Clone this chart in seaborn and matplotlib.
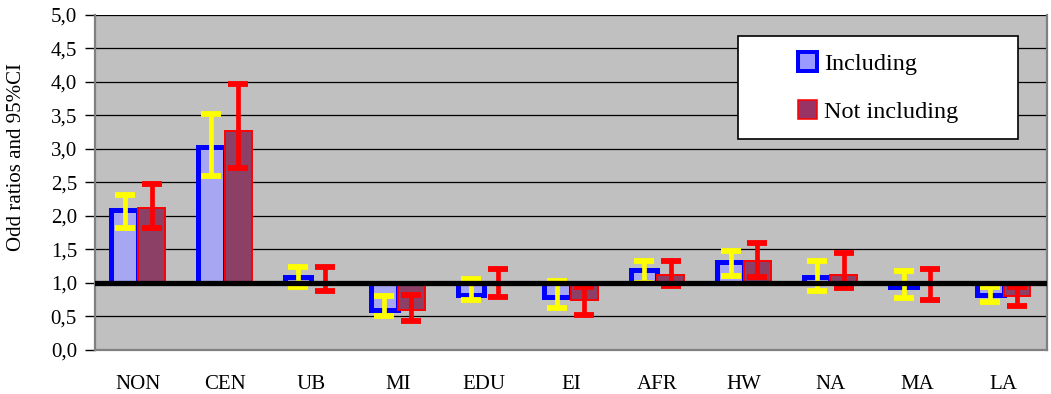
import numpy as np
import pandas as pd
import matplotlib
matplotlib.use('Agg')
import matplotlib.pyplot as plt
from matplotlib.patches import Patch, Rectangle
from matplotlib.ticker import FuncFormatter
import seaborn as sns

categories = ['NON', 'CEN', 'UB', 'MI', 'EDU', 'EI', 'AFR', 'HW', 'NA', 'MA', 'LA']
groups = ['Including', 'Not including']

incl = [2.09, 3.03, 1.09, 0.60, 0.82, 0.79, 1.19, 1.32, 1.09, 0.94, 0.82]
incl_lo = [1.82, 2.59, 0.94, 0.50, 0.74, 0.63, 1.00, 1.10, 0.88, 0.77, 0.72]
incl_hi = [2.31, 3.52, 1.24, 0.80, 1.06, 1.03, 1.33, 1.48, 1.33, 1.18, 0.94]

notincl = [2.12, 3.27, 1.01, 0.60, 0.98, 0.74, 1.12, 1.33, 1.12, 0.97, 0.80]
notincl_lo = [1.82, 2.72, 0.88, 0.44, 0.79, 0.52, 0.96, 1.09, 0.92, 0.74, 0.65]
notincl_hi = [2.48, 3.97, 1.24, 0.82, 1.21, 0.94, 1.33, 1.60, 1.45, 1.21, 0.94]

yticks = [0.0, 0.5, 1.0, 1.5, 2.0, 2.5, 3.0, 3.5, 4.0, 4.5, 5.0]

df = pd.DataFrame({
    'category': categories * 2,
    'group': [groups[0]] * len(categories) + [groups[1]] * len(categories),
    'odds': incl + notincl,
})
# bars start at the reference line 1.0
df['diff'] = df['odds'] - 1.0

plt.rcParams['font.family'] = ['Liberation Serif', 'DejaVu Serif']

fill_colors = {'Including': '#9999FF', 'Not including': '#993366'}
edge_colors = {'Including': '#0000FF', 'Not including': '#FF0000'}
edge_widths = {'Including': 3.6, 'Not including': 1.4}
err_colors = {'Including': '#FFFF00', 'Not including': '#FF0000'}

fig = plt.figure(figsize=(10.51, 3.94), dpi=100)
ax = fig.add_axes([0.0904, 0.1117, 0.9056, 0.8503])
ax.set_facecolor('#C0C0C0')

sns.barplot(data=df, x='category', y='diff', hue='group', order=categories,
            hue_order=groups, palette=fill_colors, width=0.62, gap=0,
            errorbar=None, legend=False, bottom=1.0, ax=ax, zorder=2)

lows = {'Including': incl_lo, 'Not including': notincl_lo}
highs = {'Including': incl_hi, 'Not including': notincl_hi}
vals = {'Including': incl, 'Not including': notincl}

for grp, cont in zip(groups, ax.containers):
    xs = []
    for p in cont.patches:
        p.set_edgecolor(edge_colors[grp])
        p.set_linewidth(edge_widths[grp])
        xs.append(p.get_x() + p.get_width() / 2)
    v = np.array(vals[grp])
    lo = v - np.array(lows[grp])
    hi = np.array(highs[grp]) - v
    ax.errorbar(xs, v, yerr=[lo, hi], fmt='none', ecolor=err_colors[grp],
                elinewidth=3.4, capsize=7.5, capthick=4.2, zorder=3)

ax.axhline(1.0, color='black', linewidth=3.8, zorder=4)

ax.set_ylim(0, 5)
ax.set_xlim(-0.5, len(categories) - 0.5)
ax.set_yticks(yticks)
ax.yaxis.set_major_formatter(FuncFormatter(lambda y, _: f'{y:.1f}'.replace('.', ',')))
ax.grid(axis='y', color='black', linewidth=0.9)
ax.set_axisbelow(True)

ax.tick_params(axis='y', direction='out', length=7, width=1, color='black',
               labelsize=15, pad=6)
ax.tick_params(axis='x', length=0, labelsize=15, pad=18)
ax.set_xlabel('')
ax.set_ylabel('Odd ratios and 95%CI', fontsize=15)
ax.yaxis.set_label_coords(-0.072, 0.575)

for side in ['left', 'right', 'bottom']:
    ax.spines[side].set_color('#808080')
    ax.spines[side].set_linewidth(1.6)
ax.spines['top'].set_visible(False)

# legend box
ax.add_patch(Rectangle((0.676, 0.63), 0.2935, 0.307, transform=ax.transAxes,
                       facecolor='white', edgecolor='black', linewidth=1.2,
                       zorder=5))
handles = [Patch(facecolor=fill_colors[g], edgecolor=edge_colors[g],
                 linewidth=edge_widths[g] * 0.8) for g in groups]
leg = ax.legend(handles, groups, loc='center', bbox_to_anchor=(0.8228, 0.7835),
                bbox_transform=ax.transAxes, frameon=False, fontsize=17.5,
                handlelength=0.8, handleheight=0.8, handletextpad=0.3,
                labelspacing=1.05)
leg.set_zorder(6)

fig.savefig('out.png', dpi=100)
